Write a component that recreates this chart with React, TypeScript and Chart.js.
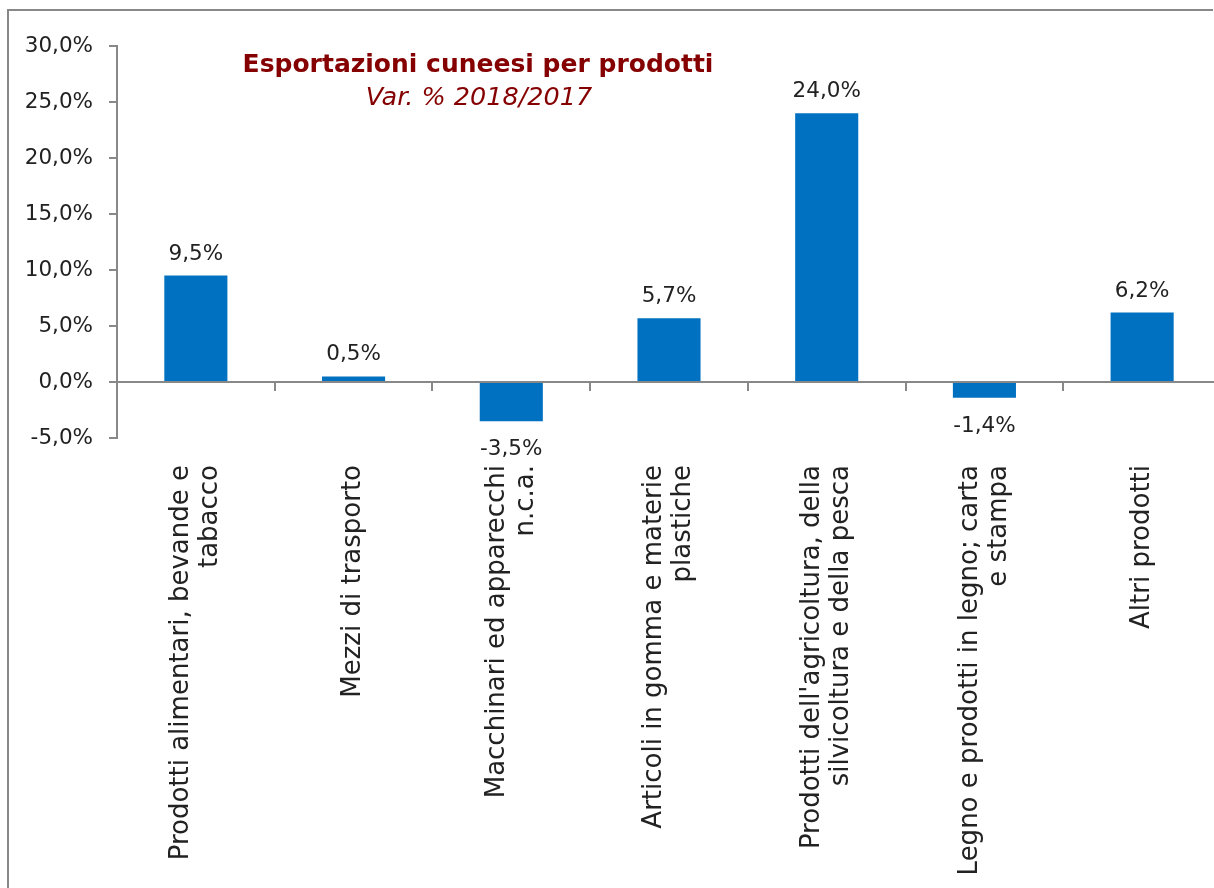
import React, { useEffect, useRef } from 'react';
import { Chart, registerables } from 'chart.js';

Chart.register(...registerables);

// ---- data ----
const categories: string[][] = [
  ['Prodotti alimentari, bevande e', 'tabacco'],
  ['Mezzi di trasporto'],
  ['Macchinari ed apparecchi', 'n.c.a.'],
  ['Articoli in gomma e materie', 'plastiche'],
  ["Prodotti dell'agricoltura, della", 'silvicoltura e della pesca'],
  ['Legno e prodotti in legno; carta', 'e stampa'],
  ['Altri prodotti'],
];
const values: number[] = [9.5, 0.5, -3.5, 5.7, 24.0, -1.4, 6.2];
const yMin = -5;
const yMax = 30;
const yStep = 5;
const titleText = 'Esportazioni cuneesi per prodotti';
const subtitleText = 'Var. % 2018/2017';

// ---- styles ----
const FONT = '"DejaVu Sans", Verdana, sans-serif';
const AXIS_COLOR = '#888888';
const BAR_COLOR = '#0070C0';
const TEXT_COLOR = '#222222';
const TITLE_COLOR = '#850000';

const fmt = (v: number) => v.toFixed(1).replace('.', ',') + '%';

export default function App() {
  const ref = useRef<HTMLCanvasElement | null>(null);

  useEffect(() => {
    const canvas = ref.current;
    if (!canvas) return;

    const framePlugin = {
      id: 'frame',
      beforeDraw(chart: any) {
        const ctx: CanvasRenderingContext2D = chart.ctx;
        ctx.save();
        ctx.fillStyle = '#ffffff';
        ctx.fillRect(0, 0, chart.width, chart.height);
        ctx.fillStyle = AXIS_COLOR;
        ctx.fillRect(7, 9, 2, chart.height);
        ctx.fillRect(7, 9, 1206, 2);
        ctx.restore();
      },
    };

    const overlayPlugin = {
      id: 'overlay',
      afterDatasetsDraw(chart: any) {
        const ctx: CanvasRenderingContext2D = chart.ctx;
        const xScale = chart.scales.x;
        const meta = chart.getDatasetMeta(0);
        ctx.save();

        // value labels
        ctx.font = `21.5px ${FONT}`;
        ctx.fillStyle = TEXT_COLOR;
        ctx.textAlign = 'center';
        ctx.textBaseline = 'alphabetic';
        meta.data.forEach((el: any, i: number) => {
          const v = values[i];
          const ty = v >= 0 ? el.y - 16 : el.y + 34;
          ctx.fillText(fmt(v), el.x, ty);
        });

        // category labels (rotated)
        ctx.font = `26px ${FONT}`;
        const top = chart.chartArea.bottom + 27;
        categories.forEach((lines, i) => {
          const cx = xScale.getPixelForValue(i);
          ctx.save();
          ctx.translate(cx, top);
          ctx.rotate(-Math.PI / 2);
          ctx.textAlign = 'right';
          ctx.textBaseline = 'middle';
          lines.forEach((line, j) => {
            ctx.fillText(line, 0, (j - (lines.length - 1) / 2) * 29);
          });
          ctx.restore();
        });

        // title
        ctx.fillStyle = TITLE_COLOR;
        ctx.textAlign = 'center';
        ctx.textBaseline = 'alphabetic';
        ctx.font = `bold 25px ${FONT}`;
        ctx.fillText(titleText, 478, 72);
        ctx.font = `italic 25.5px ${FONT}`;
        ctx.fillText(subtitleText, 479, 105);

        ctx.restore();
      },
    };

    const chart = new Chart(canvas, {
      type: 'bar',
      data: {
        labels: categories.map((l) => l.join(' ')),
        datasets: [
          {
            data: values,
            backgroundColor: BAR_COLOR,
            borderWidth: 0,
            barPercentage: 0.4,
            categoryPercentage: 1,
          },
        ],
      },
      options: {
        responsive: false,
        animation: false,
        layout: { padding: { top: 46, right: 19, bottom: 450, left: 0 } },
        plugins: {
          legend: { display: false },
          tooltip: { enabled: false },
          title: { display: false },
        },
        scales: {
          x: {
            type: 'category',
            position: { y: 0 } as any,
            offset: true,
            grid: {
              display: true,
              drawOnChartArea: false,
              drawTicks: true,
              tickLength: 8,
              color: AXIS_COLOR,
              lineWidth: 2,
              offset: true,
            },
            border: { display: true, color: AXIS_COLOR, width: 2 },
            ticks: { display: false },
          },
          y: {
            min: yMin,
            max: yMax,
            ticks: {
              stepSize: yStep,
              callback: (v: any) => fmt(Number(v)),
              font: { family: FONT, size: 21.5 },
              color: TEXT_COLOR,
              padding: 16,
            },
            grid: {
              drawOnChartArea: false,
              drawTicks: true,
              tickLength: 8,
              color: AXIS_COLOR,
              lineWidth: 2,
            },
            border: { display: true, color: AXIS_COLOR, width: 2 },
            afterFit: (s: any) => {
              s.width = 117;
            },
          },
        },
      },
      plugins: [framePlugin, overlayPlugin],
    } as any);

    return () => chart.destroy();
  }, []);

  return (
    <div
      style={{
        position: 'fixed',
        left: 0,
        top: 0,
        width: 1214,
        height: 888,
        overflow: 'hidden',
        background: '#ffffff',
      }}
    >
      <canvas
        ref={ref}
        width={1240}
        height={888}
        style={{ position: 'absolute', left: 0, top: 0, width: 1240, height: 888, display: 'block' }}
      />
    </div>
  );
}
